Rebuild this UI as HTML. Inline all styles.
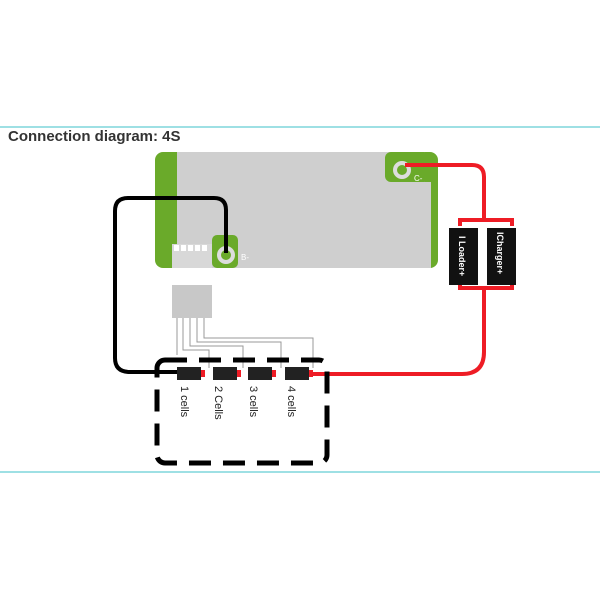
<!DOCTYPE html>
<html><head><style>
body{margin:0;background:#fff;width:600px;height:600px;overflow:hidden}
</style></head><body>
<svg width="600" height="600" xmlns="http://www.w3.org/2000/svg" font-family="Liberation Sans, sans-serif">
<line x1="0" y1="127" x2="600" y2="127" stroke="#7fd6dc" stroke-width="1.5"/>
<line x1="0" y1="472" x2="600" y2="472" stroke="#7fd6dc" stroke-width="1.5"/>
<text x="8" y="141" font-size="15" font-weight="bold" fill="#333">Connection diagram:  4S</text>
<!-- board -->
<rect x="155" y="152" width="283" height="116" rx="8" fill="#6aaa2a"/>
<rect x="177" y="152" width="248" height="116" fill="#cfcfcf"/>
<rect x="425" y="182" width="6" height="86" fill="#cfcfcf"/>
<rect x="385" y="152" width="45" height="30" rx="6" fill="#6aaa2a"/>
<rect x="212" y="235" width="26" height="33" rx="5" fill="#6aaa2a"/>
<rect x="172" y="244" width="40" height="24" fill="#d8d8d8"/>
<g fill="#fff"><rect x="174" y="245" width="5" height="6"/><rect x="181" y="245" width="5" height="6"/><rect x="188" y="245" width="5" height="6"/><rect x="195" y="245" width="5" height="6"/><rect x="202" y="245" width="5" height="6"/></g>
<circle cx="402" cy="170" r="7" fill="none" stroke="#ddd" stroke-width="4"/>
<circle cx="226" cy="255" r="7" fill="none" stroke="#ddd" stroke-width="4"/>
<text x="414" y="181" font-size="8" fill="#fff">C-</text>
<text x="241" y="260" font-size="8" fill="#fff">B-</text>
<!-- wires -->
<path d="M226 253 V210 Q226 198 214 198 H128 Q115 198 115 211 V358 Q115 372 130 372 H178" fill="none" stroke="#000" stroke-width="4"/>
<path d="M405 165 H472 Q484 165 484 177 V220 M460 226 V220 H512 V226 M460 284 V288 H512 V284 M484 288 V352 Q484 374 462 374 H312" fill="none" stroke="#ee1c25" stroke-width="4"/>
<rect x="449" y="228" width="29" height="57" fill="#111"/>
<rect x="487" y="228" width="29" height="57" fill="#111"/>
<text transform="translate(459,236) rotate(90)" font-size="9" font-weight="bold" fill="#fff">I Loader+</text>
<text transform="translate(497,232) rotate(90)" font-size="9" font-weight="bold" fill="#fff">ICharger+</text>
<!-- balance -->
<rect x="172" y="285" width="40" height="33" fill="#c8c8c8"/>
<g fill="none" stroke="#999" stroke-width="1">
<path d="M177 318 V355"/><path d="M183 318 V350 H209 V368"/><path d="M190 318 V346 H243 V368"/><path d="M197 318 V342 H281 V368"/><path d="M204 318 V338 H313 V368"/>
</g>
<!-- dashed box -->
<rect x="157" y="360" width="170" height="103" rx="8" fill="none" stroke="#000" stroke-width="5" stroke-dasharray="22,12"/>
<g fill="#222"><rect x="177" y="367" width="24" height="13"/><rect x="213" y="367" width="24" height="13"/><rect x="248" y="367" width="24" height="13"/><rect x="285" y="367" width="24" height="13"/></g>
<g fill="#ee1c25"><rect x="201" y="370" width="4" height="7"/><rect x="237" y="370" width="4" height="7"/><rect x="272" y="370" width="4" height="7"/><rect x="309" y="370" width="4" height="7"/></g>
<g font-size="11" fill="#222">
<text transform="translate(181,386) rotate(90)">1 cells</text>
<text transform="translate(215,386) rotate(90)">2 Cells</text>
<text transform="translate(250,386) rotate(90)">3 cells</text>
<text transform="translate(288,386) rotate(90)">4 cells</text>
</g>
</svg>
</body></html>
